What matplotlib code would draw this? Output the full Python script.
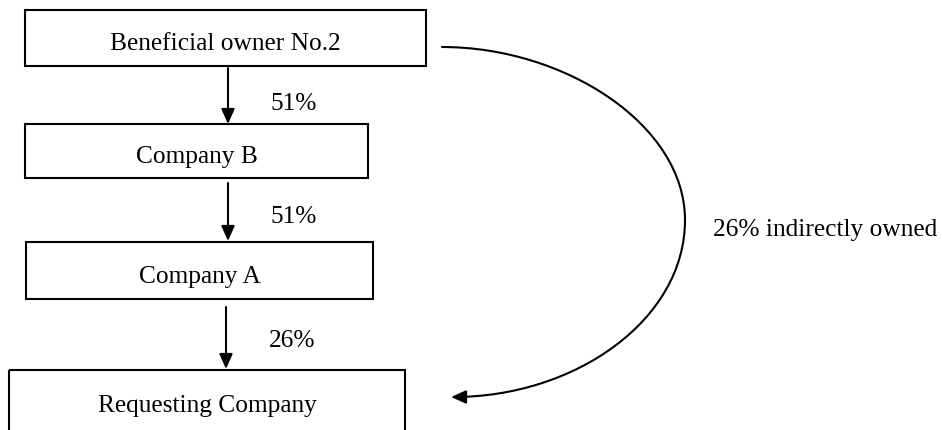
"""Ownership chain diagram for beneficial owner No.2."""

import matplotlib.pyplot as plt
from matplotlib.patches import Rectangle, FancyArrowPatch
from matplotlib.path import Path

# chain of entities, top to bottom, and the stake each holds in the next
entities = ["Beneficial owner No.2", "Company B", "Company A", "Requesting Company"]
stakes = ["51%", "51%", "26%"]
indirect_label = "26% indirectly owned"

# layout in pixel units (x0, y0, x1, y1), y grows downward
boxes = [(25, 10, 426, 66), (25, 124, 368, 178), (26, 242, 373, 299), (9, 370, 405, 440)]
box_text_y = [44, 157, 277, 406]
arrows = [(228, 68, 124), (228, 183, 241), (226, 307, 369)]
stake_text_y = [104, 217, 341]

plt.rcParams["font.family"] = ["Liberation Serif", "DejaVu Serif"]
FS = 18.3
HEAD = "-|>,head_length=0.45,head_width=0.2"

fig = plt.figure(figsize=(9.42, 4.30), dpi=100)
ax = fig.add_axes([0, 0, 1, 1])
ax.set_xlim(0, 942)
ax.set_ylim(430, 0)
ax.axis("off")

for (x0, y0, x1, y1), ty, name in zip(boxes, box_text_y, entities):
    ax.add_patch(Rectangle((x0, y0), x1 - x0, y1 - y0, fill=False,
                           edgecolor="black", linewidth=1.5))
    ax.text((x0 + x1) / 2, ty, name, ha="center", va="center", fontsize=FS)

for (x, ya, yb), ty, pct in zip(arrows, stake_text_y, stakes):
    ax.add_patch(FancyArrowPatch((x, ya), (x, yb), arrowstyle=HEAD,
                                 mutation_scale=20, color="black", linewidth=1.5,
                                 shrinkA=0, shrinkB=0))
    ax.text(x + 66, ty, pct, ha="center", va="center", fontsize=FS)

# curved arrow for the indirect holding
verts = [(442, 47), (565, 47), (685, 125), (685, 220),
         (685, 320), (575, 397), (451, 397)]
codes = [Path.MOVETO, Path.CURVE4, Path.CURVE4, Path.CURVE4,
         Path.CURVE4, Path.CURVE4, Path.CURVE4]
ax.add_patch(FancyArrowPatch(path=Path(verts, codes), arrowstyle=HEAD,
                             mutation_scale=20, color="black", linewidth=1.5))
ax.text(713, 230, indirect_label, ha="left", va="center", fontsize=FS)

fig.savefig("out.png", dpi=100)
plt.close(fig)
